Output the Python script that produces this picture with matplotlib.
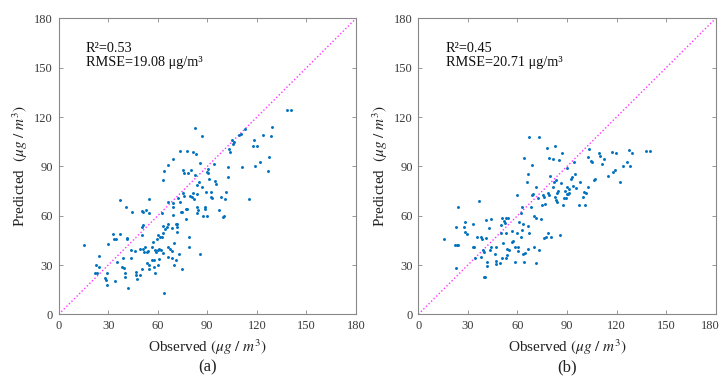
import matplotlib
matplotlib.use("Agg")
import matplotlib.pyplot as plt
from matplotlib.transforms import ScaledTranslation

plt.rcParams['font.family'] = ['Liberation Serif', 'DejaVu Serif']
plt.rcParams['mathtext.fontset'] = 'stix'

# Panel (a) data: observed, predicted
obs_a = [15.5, 24.4, 22.8, 24.4, 21.8, 23.4, 29, 28, 28.6, 29, 29.7, 32.7, 33.3, 34.4, 34, 35,
         37, 37, 38.5, 38.9, 39.3, 40, 40, 41, 41.2, 41.4, 41.8, 43.6, 43.8, 44.2, 46, 46.8,
         46.8, 47.2, 49.2, 49.4, 50.2, 50.6, 50.8, 50.6, 51.2, 51.2, 51.6, 50.6, 52, 52.8,
         53.3, 53.3, 53.9, 54.7, 54.9, 54.9, 54.9, 56.3, 56.7, 56.9, 57.7, 57.9, 58.3, 58.3,
         58.9, 59.3, 59.9, 59.9, 60.3, 60.7, 60.9, 61.3, 61.9, 62.3, 62.8, 63, 63, 63.4, 63,
         64, 64, 64.4, 65.4, 66, 66.4, 66.4, 66.4, 66.4, 67.4, 68.4, 68.8, 68.8, 69, 69.4,
         69.4, 69.4, 69.8, 70, 70.8, 71, 71.4, 71.4, 71.8, 72, 73, 73.4, 73.6, 74, 74.5, 74.9,
         75, 75.2, 75.6, 76, 76.9, 76.9, 77.4, 77.9, 78.5, 78.7, 79, 79.5, 79.9, 80.5, 81.1,
         81.5, 81.9, 82.3, 82.5, 83.1, 83.5, 83.5, 83.5, 83.7, 84.1, 84.9, 85.6, 85.6, 86.6,
         87, 87.6, 88.4, 88.8, 89.2, 89.6, 90, 90.2, 90.6, 91, 92, 92.2, 92.8, 94.2, 94.8,
         95.2, 97.3, 98, 99.7, 100, 100.7, 101.3, 102.5, 102.7, 103.1, 103.7, 105, 105.7,
         106.3, 109.4, 110.2, 111.2, 112.7, 115.4, 117.8, 118.2, 119, 119.9, 121.9, 123.9,
         126.9, 127.5, 128.3, 129.3, 138.4, 140.4]
pred_a = [42.2, 35.5, 30, 29, 25.3, 25, 25, 22, 21, 17.8, 43, 48.7, 46, 46, 20.5, 31.6,
          69.5, 48.7, 29, 34.5, 28.4, 25, 23, 65, 46.6, 45.8, 15.8, 34.5, 39, 62.4, 38.7, 26,
          24, 21.3, 24, 40, 48.2, 53.3, 54.1, 62.8, 62, 40, 38, 27.4, 41, 63.4,
          38, 31.4, 38.7, 61.4, 70.1, 30, 27.4, 33, 41.2, 44.2, 33, 29, 25.3, 39,
          38, 45.6, 48.2, 39.4, 30, 33.8, 40, 46.8, 39.4, 47.2, 61.4, 53.7, 81.7, 49.3, 37.5,
          87.4, 13.2, 52, 52.9, 41.2, 90.8, 68.3, 55, 35, 40, 52.3, 38.7, 34, 94.3, 67.5,
          65, 60.4, 43.2, 30, 55, 33, 54.7, 49.9, 52.9, 71, 36.7, 99.5, 68.3, 62, 27.4, 62,
          73.6, 87.8, 72, 86.2, 58, 63.8, 64, 99.5, 86.2, 46.8, 40.7, 72, 87.8, 71.2, 98.9,
          73.6, 70, 84.7, 113.5, 97.5, 78.7, 73, 65, 61.8, 63.4, 80.7, 91.8, 36.7, 108.5,
          77.6, 59.8, 65, 63.8, 74.6, 86.8, 59.8, 88.2, 85.7, 82.3, 71.2, 74.2, 71, 91.4, 81.3,
          79, 63.4, 71.6, 59, 60, 70, 74.2, 83.7, 89.4, 100.3, 98.9, 106, 103.6,
          104.6, 109, 109.7, 89.8, 113, 70, 102.4, 106, 90.4, 102.4, 92.8, 109,
          87.2, 95.9, 108.5, 114, 124, 124]

# Panel (b) data
obs_b = [15.4, 22.8, 22.4, 23.2, 24, 22.8, 24.2, 28.5, 28.5, 29.3, 27.9, 32.9, 33.3, 33.9,
         34.3, 35.4, 37, 37.8, 37.8, 38.8, 39.4, 39.8, 40, 40.2, 40.8, 41, 41.4, 41.4, 42.6,
         43.4, 43.8, 44.2, 46.5, 47, 47, 47.3, 49.5, 49.9, 50.3, 50.7, 50.9, 51.1, 52, 52.5,
         52.9, 53.1, 53.1, 53.5, 53.9, 54.5, 54.9, 56.6, 56.6, 57.6, 58.6, 58.8, 59.6, 60,
         60.4, 60.6, 61.2, 62, 62.4, 62.8, 63, 63.2, 63.6, 64, 64, 64.6, 65.7, 66.3, 66.3,
         66.3, 66.7, 67.3, 68.1, 68.7, 69.1, 69.7, 70.1, 70.3, 71.1, 71.1, 71.3, 72.7, 73.1,
         73.3, 74.3, 74.7, 75.4, 75.8, 76.2, 76.8, 77.4, 77.8, 78.2, 78.8, 79, 79.4, 79.8,
         80.2, 81.4, 81.8, 82.4, 82.8, 82.8, 83.2, 83.4, 83.8, 84.2, 84.6, 85.3, 85.9, 86.3,
         86.9, 87.5, 88.3, 88.9, 89.3, 89.7, 89.9, 90.3, 90.7, 91.1, 91.5, 92.5, 93.3, 93.5,
         94.5, 94.9, 95.5, 97.4, 98, 99.6, 100.4, 100.6, 101.6, 102.6, 102.8, 103.2, 104.4,
         105.4, 106.1, 106.7, 109.3, 109.9, 110.9, 112.5, 115, 117, 117.8, 119.2, 119.4,
         121.8, 123.8, 126.3, 127.3, 127.9, 129.1, 138, 140.4]
pred_b = [45.6, 53.3, 42, 42, 42, 28, 65.5, 56.4, 49.9, 48.9, 52.9, 55, 41.2, 41.2,
          34, 47.2, 69, 47.2, 35, 45.6, 39, 38, 23, 22.5, 57.4, 46.2, 32, 29.6, 52.7,
          39, 40.7, 58.2, 36.5, 41.2, 32.4, 30.4, 31, 49.3, 54.3, 34, 58.4, 43.2, 57, 55.7,
          49.3, 58.4, 34, 40, 36, 58.4, 39, 44.2, 50.7, 44.8, 32, 41.2, 49.3, 72.6,
          41.2, 38.5, 56.4, 61.4, 47.2, 51.3, 65.5, 54.7, 36.5, 94.9, 32, 37.1, 80.7, 85.3, 53.9,
          40, 108, 49.3, 65.5, 90.8, 72.6, 73, 41.2, 59.8, 58.4, 31, 77.2, 70.9, 39,
          108, 57.8, 66.5, 72.6, 46.6, 71.2, 67.1, 47.2, 101, 74, 49.3, 94.9, 72.6, 84.3,
          46.8, 94.3, 77.2, 80.7, 102.6, 71.6, 81.7, 69.5, 74, 68.5, 75.2, 93.9, 48.3, 79.7,
          98.3, 66.5, 70.5, 75.2, 70.5, 73.2, 77.2, 89.2, 73, 76, 73.6, 82.3, 83.3, 78,
          92.8, 85.3, 77, 66.5, 80.7, 71.6, 74.6, 66.5, 73.8, 77.6, 95.5, 100.5, 93.3,
          92.4, 81.7, 82.3, 97.9, 96.3, 91.2, 94.3, 84.3, 98.9, 86.4, 87.8, 97.9,
          80.7, 90.4, 92.8, 99.9, 90.2, 98.3, 99.5, 99.3]

ticks = [0, 30, 60, 90, 120, 150, 180]
panels = [
    (obs_a, pred_a, "R\u00b2=0.53", "RMSE=19.08 \u03bcg/m\u00b3", "(a)"),
    (obs_b, pred_b, "R\u00b2=0.45", "RMSE=20.71 \u03bcg/m\u00b3", "(b)"),
]
lefts = [0.0815, 0.581]

fig = plt.figure(figsize=(7.2, 3.76), dpi=100)
for i, ((obs, pred, r2, rmse, cap), left) in enumerate(zip(panels, lefts)):
    ax = fig.add_axes([left, 0.164, 0.413, 0.787])
    ax.plot([0, 180], [0, 180], color='#ff33ff', linestyle=(0, (1, 1.6)), linewidth=1.0, zorder=1)
    ax.scatter(obs, pred, s=4.5, color='#0072BD', linewidths=0, zorder=2)
    ax.set_xlim(0, 180)
    ax.set_ylim(0, 180)
    ax.set_xticks(ticks)
    ax.set_yticks(ticks)
    ax.tick_params(direction='in', top=True, right=True, length=3, width=0.6,
                   color='#888888', labelcolor='#3a3a3a', labelsize=9, pad=4)
    for sp in ax.spines.values():
        sp.set_color('#888888')
        sp.set_linewidth(0.8)
    ax.set_xlabel(r'Observed $(\mu g\ /\ m^3)$', fontsize=11, color='#222222', labelpad=4)
    ax.set_ylabel(r'Predicted  $(\mu g\ /\ m^3)$', fontsize=11, color='#222222', labelpad=3)
    ax.text(16.5, 162, r2, fontsize=10.3, color='#111111', va='center', ha='left')
    ax.text(16.5, 153, rmse, fontsize=10.3, color='#111111', va='center', ha='left')
    fig.text(left + 0.413 / 2, 0.022, cap, fontsize=12, ha='center', va='center', color='#222222')
    if i == 1:
        fig.canvas.draw()
        lab = ax.get_xticklabels()[-1]
        lab.set_transform(lab.get_transform() + ScaledTranslation(-5 / 100, 0, fig.dpi_scale_trans))

fig.savefig('out.png', dpi=100)
